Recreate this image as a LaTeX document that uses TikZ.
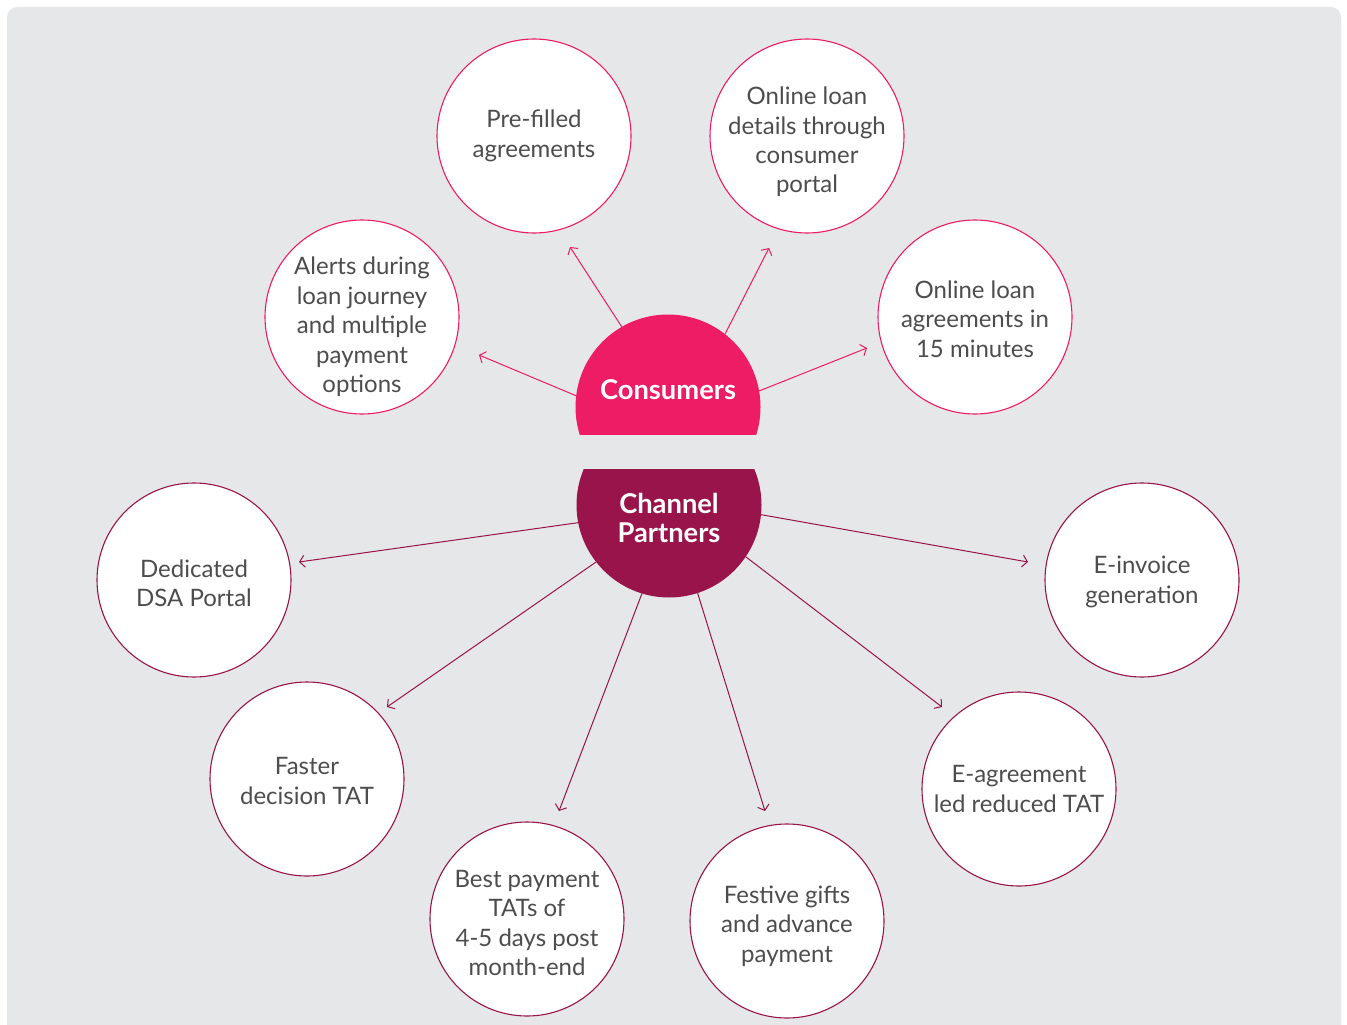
\documentclass[tikz,border=0pt]{standalone}
\usepackage{fontspec}
\setmainfont{Lato}
\usetikzlibrary{arrows.meta}
\definecolor{cpink}{RGB}{237,28,100}
\definecolor{cmaroon}{RGB}{152,20,74}
\definecolor{bggray}{RGB}{230,231,232}
\definecolor{tgray}{RGB}{77,77,77}
\tikzset{
  leaf/.style={circle, draw, fill=white, line width=1.1pt, minimum size=194pt, inner sep=0pt},
  pleaf/.style={leaf, draw=cpink},
  mleaf/.style={leaf, draw=cmaroon},
  ltext/.style={align=center, text=tgray, inner sep=0pt, font=\fontsize{24}{29.4}\selectfont},
  hub/.style={circle, minimum size=185pt, inner sep=0pt},
  htext/.style={text=white, align=center, inner sep=0pt, font=\fontsize{27.3}{29.5}\selectfont\bfseries},
  parrow/.style={draw=cpink, line width=1pt, -{Straight Barb[length=5pt,width=12pt]}},
  marrow/.style={draw=cmaroon, line width=1pt, -{Straight Barb[length=5pt,width=12pt]}}
}
\begin{document}
\begin{tikzpicture}[x=1pt,y=-1pt]
\useasboundingbox (0,0) rectangle (1347,1025);
\clip (0,0) rectangle (1347,1025);
\fill[white] (0,0) rectangle (1347,1025);
\fill[bggray, rounded corners=10pt] (7,7) rectangle (1341,1045);

% hub shapes
\begin{scope}
\clip (0,0) rectangle (1347,434);
\fill[cpink] (668,407) circle (92.5pt);
\end{scope}
\begin{scope}
\clip (0,469) rectangle (1347,1025);
\fill[cmaroon] (669,505) circle (92.5pt);
\end{scope}
\node[hub] (cons) at (668,407) {};
\node[hub] (chan) at (669,505) {};
\node[htext] (consl) at (668,390) {Consumers};
\node[htext] (chanl) at (669,518) {Channel\\Partners};

% leaves
\node[pleaf] (pre) at (534,136) {};
\node[pleaf] (onl) at (807,136) {};
\node[pleaf] (alr) at (362,317) {};
\node[pleaf] (agr) at (975,317) {};
\node[mleaf] (dsa) at (194,580) {};
\node[mleaf] (inv) at (1142,580) {};
\node[mleaf] (fst) at (307,779) {};
\node[mleaf] (eag) at (1019,789) {};
\node[mleaf] (bst) at (527,919) {};
\node[mleaf] (fes) at (787,921) {};

\node[ltext] (pret) at ([yshift=0pt]pre) {Pre-filled\\agreements};
\node[ltext] (onlt) at ([yshift=-6pt]onl) {Online loan\\details through\\consumer\\portal};
\node[ltext] (alrt) at ([yshift=-10pt]alr) {Alerts during\\loan journey\\and multiple\\payment\\options};
\node[ltext] (agrt) at ([yshift=-2pt]agr) {Online loan\\agreements in\\15 minutes};
\node[ltext] (dsat) at ([yshift=-3pt]dsa) {Dedicated\\DSA Portal};
\node[ltext] (invt) at ([yshift=-2pt]inv) {E-invoice\\generation};
\node[ltext] (fstt) at ([yshift=-2pt]fst) {Faster\\decision TAT};
\node[ltext] (eagt) at (eag) {E-agreement\\led reduced TAT};
\node[ltext] (bstt) at ([yshift=-4pt]bst) {Best payment\\TATs of\\4-5 days post\\month-end};
\node[ltext] (fest) at ([yshift=-5pt]fes) {Festive gifts\\and advance\\payment};

% arrow ends
\coordinate (e1) at (570,247);
\coordinate (e2) at (769,248);
\coordinate (e3) at (479,355);
\coordinate (e4) at (867,348);
\coordinate (f1) at (299,562);
\coordinate (f2) at (1028,562);
\coordinate (f3) at (387,707);
\coordinate (f4) at (942,707);
\coordinate (f5) at (559,811);
\coordinate (f6) at (765,811);

\draw[parrow] (cons.120) -- (e1);
\draw[parrow] (cons.52) -- (e2);
\draw[parrow] (cons.173) -- (e3);
\draw[parrow] (cons.10.5) -- (e4);
\draw[marrow] (chan.191.8) -- (f1);
\draw[marrow] (chan.-6.7) -- (f2);
\draw[marrow] (chan.218) -- (f3);
\draw[marrow] (chan.-34.2) -- (f4);
\draw[marrow] (chan.253.3) -- (f5);
\draw[marrow] (chan.288.4) -- (f6);
\end{tikzpicture}
\end{document}
